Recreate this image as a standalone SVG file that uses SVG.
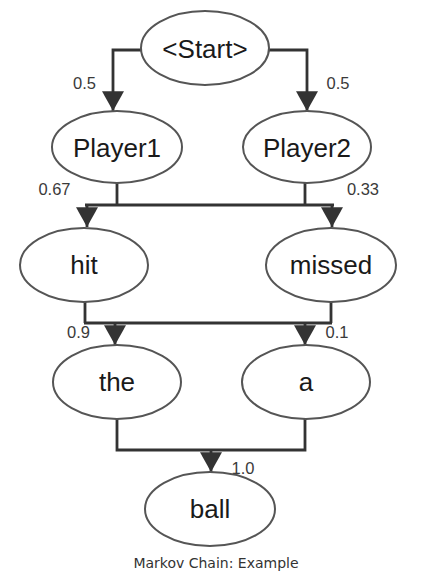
<svg xmlns="http://www.w3.org/2000/svg" width="424" height="581" viewBox="0 0 424 581">
<style>
.node ellipse{fill:#fff;stroke:#555;stroke-width:2}
.node text{font-family:"Liberation Sans",Arial,sans-serif;font-size:26px;fill:#1a1a1a;text-anchor:middle}
.edge{fill:none;stroke:#333;stroke-width:2.8}
.lbl{font-family:"Liberation Sans",Arial,sans-serif;font-size:16.5px;fill:#3a3a3a;text-anchor:middle}
.cap{font-family:"DejaVu Sans",sans-serif;font-size:14px;fill:#333;text-anchor:middle}
</style>
<defs>
<marker id="arr" markerUnits="userSpaceOnUse" markerWidth="22" markerHeight="22" viewBox="0 0 18 20" refX="18" refY="10" orient="auto">
<path d="M0,0 L18,10 L0,20 z" fill="#333"/>
</marker>
</defs>
<rect width="424" height="581" fill="#fff"/>
<g id="connectors">
<path class="edge" d="M141,50 H113 V111" marker-end="url(#arr)"/>
<path class="edge" d="M269,50 H307 V111" marker-end="url(#arr)"/>
<path class="edge" d="M117,183 V205 M305,183 V205 M85,205 H334"/>
<path class="edge" d="M87,205 V227" marker-end="url(#arr)"/>
<path class="edge" d="M332,205 V227" marker-end="url(#arr)"/>
<path class="edge" d="M85,302 V323 M331,302 V323 M84,323 H332"/>
<path class="edge" d="M115,323 V345" marker-end="url(#arr)"/>
<path class="edge" d="M305,323 V345" marker-end="url(#arr)"/>
<path class="edge" d="M117,419 V450 H305 V419"/>
<path class="edge" d="M211,450 V472" marker-end="url(#arr)"/>
<text class="lbl" x="84.5" y="89">0.5</text>
<text class="lbl" x="338" y="89">0.5</text>
<text class="lbl" x="54.5" y="195">0.67</text>
<text class="lbl" x="363" y="195">0.33</text>
<text class="lbl" x="78.5" y="338">0.9</text>
<text class="lbl" x="337" y="338">0.1</text>
<text class="lbl" x="243" y="474">1.0</text>
</g>
<g id="start" class="node"><ellipse cx="205" cy="48" rx="64" ry="37"/><text x="205" y="58">&lt;Start&gt;</text></g>
<g id="player1" class="node"><ellipse cx="117" cy="147" rx="65" ry="36"/><text x="117" y="157">Player1</text></g>
<g id="player2" class="node"><ellipse cx="307" cy="147" rx="64" ry="36"/><text x="307" y="157">Player2</text></g>
<g id="hit" class="node"><ellipse cx="84" cy="265" rx="64" ry="37"/><text x="84" y="274">hit</text></g>
<g id="missed" class="node"><ellipse cx="331" cy="265" rx="65" ry="37"/><text x="331" y="274">missed</text></g>
<g id="the" class="node"><ellipse cx="117" cy="382" rx="64" ry="37"/><text x="117" y="391">the</text></g>
<g id="a" class="node"><ellipse cx="306" cy="382" rx="64" ry="37"/><text x="306" y="391">a</text></g>
<g id="ball" class="node"><ellipse cx="210" cy="509" rx="65" ry="37"/><text x="210" y="518">ball</text></g>
<text class="cap" x="216" y="568">Markov Chain: Example</text>
</svg>
